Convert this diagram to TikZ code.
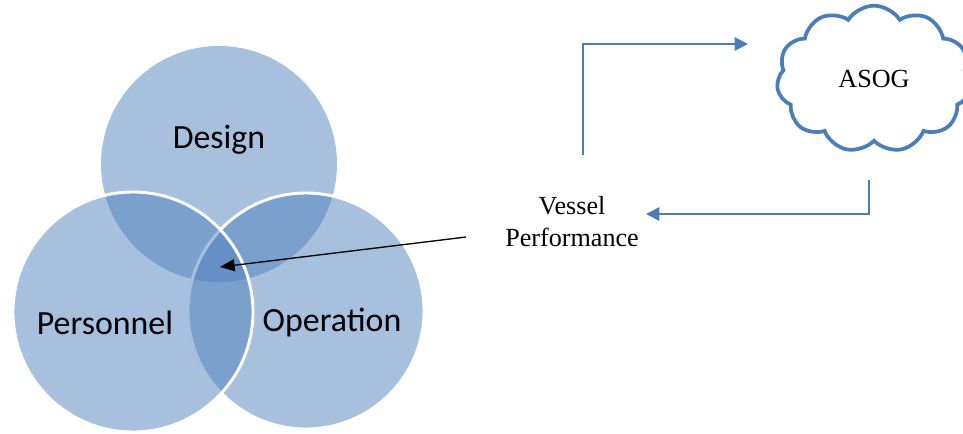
\documentclass[tikz,border=0pt]{standalone}
\usepackage{fontspec}
\setmainfont{Liberation Serif}
\newfontfamily\calibrifont{Carlito}
\usetikzlibrary{arrows.meta,shapes.symbols}

\definecolor{vennblue}{HTML}{4F81BD}
\definecolor{flowblue}{HTML}{4A7EBB}

\tikzset{
  venn/.style={fill=vennblue, fill opacity=0.5, draw=white, line width=2.2pt},
  vennlabel/.style={font=\calibrifont\fontsize{25.4}{30}\selectfont},
  flowline/.style={draw=flowblue, line width=1.5pt, -{Triangle[length=10pt,width=10pt]}},
}

\begin{document}
\begin{tikzpicture}[x=0.75pt,y=-0.75pt]

    % Keep the page the size of the reference
    \useasboundingbox (0,0) rectangle (963,433);

    % Draw the three overlapping circles
    \fill[venn, draw=none] (219,164) circle [radius=118];
    \draw[venn] (306,311) circle [radius=118];
    \draw[venn] (133,312) circle [radius=120];

    % Add labels inside the circles
    \node[vennlabel] (design) at (219,140) {Design};
    \node[vennlabel] (personnel) at (105,323) {Personnel};
    \node[vennlabel] (operation) at (332,323) {Operation};

    % The centre where all three circles meet
    \coordinate (core) at (220,267);

    % Add the text on the right and the cloud
    \node[align=center, font=\fontsize{19.6}{24}\selectfont] (vp) at (572,222) {Vessel\\Performance};
    \node[cloud, cloud puffs=11, cloud puff arc=115, draw=flowblue, line width=2.8pt,
          minimum width=146pt, minimum height=110pt, font=\fontsize{19.6}{24}\selectfont]
          (asog) at (874,79) {ASOG};

    % Free ends of the feedback loop
    \coordinate (upstart) at (583,155);
    \coordinate (upend) at (748,44);
    \coordinate (downstart) at (869,180);
    \coordinate (downend) at (646,214);

    % Draw the loop between the text and the cloud
    \draw[flowline] (upstart) |- (upend);
    \draw[flowline] (downstart) |- (downend);

    % Draw the black arrow to the centre of the circles
    \coordinate (vpstart) at (466,237);
    \draw[line width=1pt, -{Triangle[length=11pt,width=9pt]}] (vpstart) -- (core);

\end{tikzpicture}
\end{document}
